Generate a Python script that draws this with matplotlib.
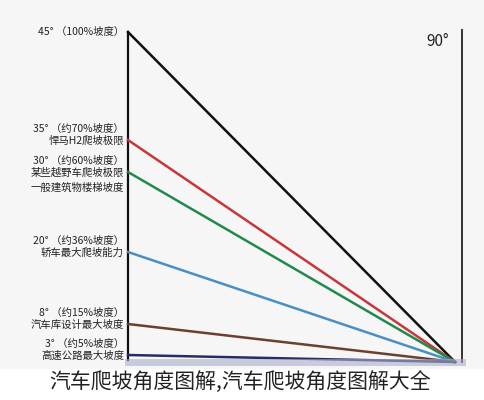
import matplotlib.pyplot as plt

plt.rcParams['font.family'] = ['Noto Sans CJK SC', 'DejaVu Sans']

# line start heights on the left axis (pixel rows), top to bottom
angles = ['45°', '35°', '30°', '20°', '8°', '3°']
start_rows = [32, 140, 172, 252, 324, 355]
line_colors = ['#111111', '#c8363a', '#1f8a4c', '#4a8fc4', '#6b4030', '#2a2a6a']
labels_1 = ['45° （100%坡度）', '35° （约70%坡度）', '30° （约60%坡度）',
            '20° （约36%坡度）', '8° （约15%坡度）', '3° （约5%坡度）']
labels_2 = ['', '悍马H2爬坡极限', '某些越野车爬坡极限\n一般建筑物楼梯坡度',
            '轿车最大爬坡能力', '汽车库设计最大坡度', '高速公路最大坡度']

apex = (455, 362)
left_x = 128

fig = plt.figure(figsize=(4.85, 4.0), dpi=100)
ax = fig.add_axes([0, 0, 1, 1])
ax.set_xlim(0, 485)
ax.set_ylim(400, 0)
ax.axis('off')
ax.add_patch(plt.Rectangle((0, 0), 485, 368, color='#f6f6f6', zorder=0))

ax.plot([left_x, left_x], [start_rows[0], 360], color='#111111', lw=1.6)
ax.plot([462, 462], [30, 362], color='#333333', lw=1.4)
ax.text(438, 42, '90°', fontsize=11, color='#222222', va='center', ha='center')

for row, c in zip(start_rows, line_colors):
    ax.plot([left_x, apex[0]], [row, apex[1]], color=c, lw=1.8)

ax.plot([left_x, 462], [362, 362], color='#aab0c8', lw=5, alpha=0.6)

for i, (row, t1, t2) in enumerate(zip(start_rows, labels_1, labels_2)):
    y1 = row if i == 0 else row - 11
    ax.text(124, y1, t1, fontsize=7.5, ha='right', va='center', color='#222222')
    if t2:
        ax.text(124, y1 + 7, t2, fontsize=7.5, ha='right', va='top', color='#222222',
                linespacing=1.5)

ax.text(240, 382, '汽车爬坡角度图解,汽车爬坡角度图解大全', fontsize=15, ha='center',
        va='center', color='#222222', zorder=5)

fig.savefig('out.png', dpi=100)
